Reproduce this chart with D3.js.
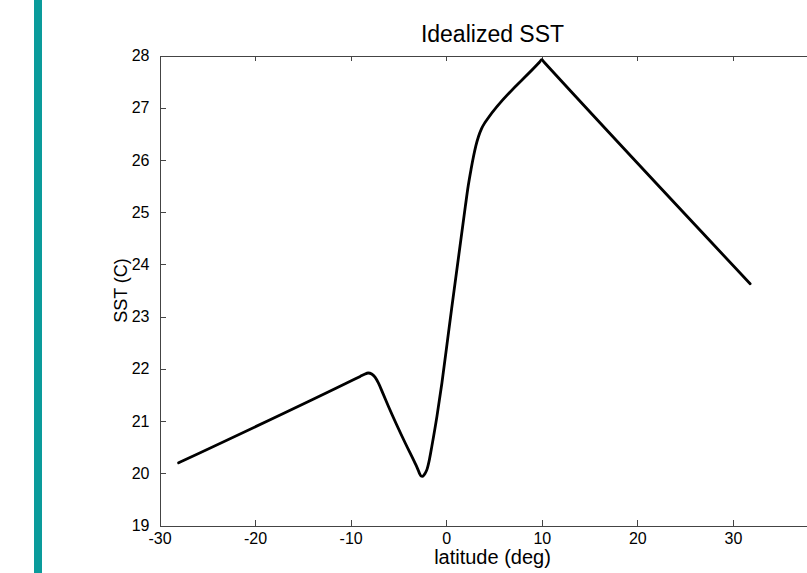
<!DOCTYPE html>
<html>
<head>
<meta charset="utf-8">
<script src="https://cdn.jsdelivr.net/npm/d3@7"></script>
<style>
  html, body { margin: 0; padding: 0; background: #fff; }
  svg { display: block; }
  text { font-family: "Liberation Sans", Arial, Helvetica, sans-serif; fill: #000; }
</style>
</head>
<body>
<svg id="chart" width="807" height="573"></svg>
<script>
// Idealized sea-surface temperature profile across latitude
const latitude = [-28, -9.5, -9.0, -8.6, -8.16, -7.8, -7.45, -7.1, -6.6, -6.04, -4.29, -3.25, -3.0, -2.8, -2.65, -2.5, -2.35, -2.2, -2.02, -1.75, -1.5, -0.97, -0.45, 0.3, 2.0, 2.3, 2.6, 2.86, 3.1, 3.38, 3.7, 4.0, 4.26, 9.75, 10.0, 10.25, 31.8];
const sst      = [20.2, 21.81, 21.855, 21.89, 21.92, 21.9, 21.84, 21.73, 21.52, 21.28, 20.58, 20.19, 20.09, 20.0, 19.95, 19.94, 19.96, 20.0, 20.07, 20.27, 20.52, 21.09, 21.73, 22.78, 25.11, 25.5, 25.82, 26.07, 26.27, 26.45, 26.6, 26.7, 26.77, 27.87, 27.92, 27.87, 23.63];

const xTicks = [-30, -20, -10, 0, 10, 20, 30, 40];
const yTicks = [19, 20, 21, 22, 23, 24, 25, 26, 27, 28];

const chartTitle = "Idealized SST";
const xLabel = "latitude (deg)";
const yLabel = "SST (C)";

const svg = d3.select("#chart");

// teal margin bar on the left side of the page
svg.append("rect")
  .attr("x", 34).attr("y", 0)
  .attr("width", 8).attr("height", 573)
  .attr("fill", "#0a9b9b");

const plotLeft = 159.5, plotRight = 828.5, plotTop = 55.5, plotBottom = 525.5;

const x = d3.scaleLinear().domain([-30, 40]).range([plotLeft, plotRight]);
const y = d3.scaleLinear().domain([19, 28]).range([plotBottom, plotTop]);

const axisColor = "#444";

function styleAxis(g) {
  g.selectAll("path.domain").attr("stroke", axisColor).attr("shape-rendering", "crispEdges");
  g.selectAll(".tick line").attr("stroke", axisColor).attr("shape-rendering", "crispEdges");
  g.selectAll(".tick text").style("font-size", "16px").attr("fill", "#000")
    .style("font-family", '"Liberation Sans", Arial, Helvetica, sans-serif');
}

// bottom axis with inward ticks
svg.append("g")
  .attr("transform", `translate(0,${plotBottom})`)
  .call(d3.axisBottom(x).tickValues(xTicks).tickSize(-6).tickSizeOuter(0).tickPadding(7)
        .tickFormat(d => d === 40 ? "" : d))
  .call(styleAxis);

// left axis with inward ticks
svg.append("g")
  .attr("transform", `translate(${plotLeft},0)`)
  .call(d3.axisLeft(y).tickValues(yTicks).tickSize(-6).tickSizeOuter(0).tickPadding(10))
  .call(styleAxis);

// top frame with ticks, no labels
svg.append("g")
  .attr("transform", `translate(0,${plotTop})`)
  .call(d3.axisTop(x).tickValues(xTicks).tickSize(-5).tickSizeOuter(0).tickFormat(""))
  .call(styleAxis);

// right frame with ticks, no labels
svg.append("g")
  .attr("transform", `translate(${plotRight},0)`)
  .call(d3.axisRight(y).tickValues(yTicks).tickSize(-5).tickSizeOuter(0).tickFormat(""))
  .call(styleAxis);

// SST curve
const pts = latitude.map((v, i) => [v, sst[i]]);
svg.append("path")
  .datum(pts)
  .attr("fill", "none")
  .attr("stroke", "#000")
  .attr("stroke-width", 2.8)
  .attr("stroke-linejoin", "round")
  .attr("stroke-linecap", "round")
  .attr("d", d3.line().x(d => x(d[0])).y(d => y(d[1])).curve(d3.curveMonotoneX));

// title and axis labels
svg.append("text")
  .attr("x", 492.5).attr("y", 42)
  .attr("text-anchor", "middle")
  .style("font-size", "23px")
  .text(chartTitle);

svg.append("text")
  .attr("x", 492.5).attr("y", 564)
  .attr("text-anchor", "middle")
  .style("font-size", "20px")
  .text(xLabel);

svg.append("text")
  .attr("transform", `translate(127,${(plotTop + plotBottom) / 2}) rotate(-90)`)
  .attr("text-anchor", "middle")
  .style("font-size", "18px")
  .text(yLabel);
</script>
</body>
</html>
